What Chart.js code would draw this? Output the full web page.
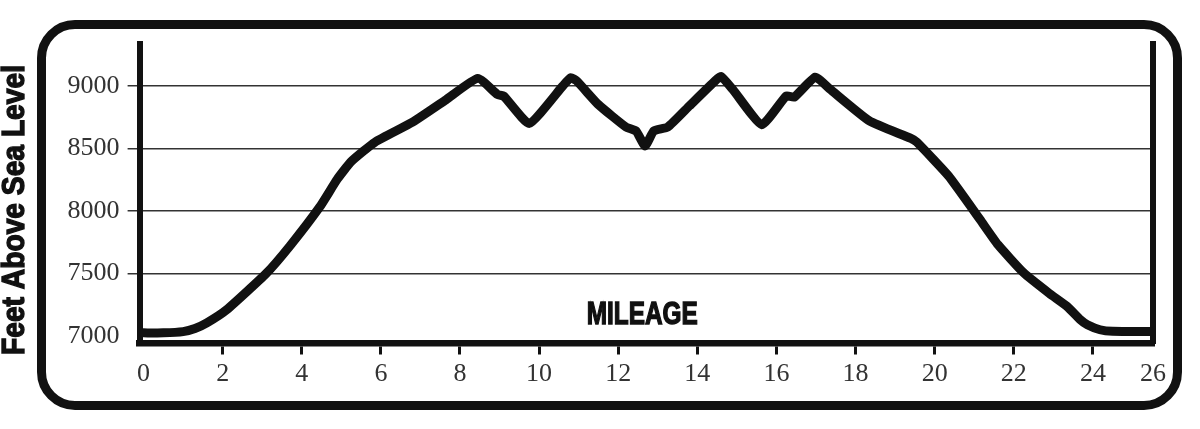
<!DOCTYPE html>
<html>
<head>
<meta charset="utf-8">
<script src="https://cdn.jsdelivr.net/npm/chart.js@4.4.0/dist/chart.umd.min.js"></script>
<style>
  html, body { margin:0; padding:0; background:#fff; }
  #wrap { position:relative; width:1200px; height:429px; }
  #frame {
    position:absolute; left:37px; top:20px; width:1145px; height:390px;
    box-sizing:border-box; border:9px solid #111; border-radius:38px;
    pointer-events:none;
  }
</style>
</head>
<body>
<div id="wrap">
  <canvas id="profil" width="1200" height="429"></canvas>
  <div id="frame"></div>
</div>
<script>
// Profil d'altitude : miles / pieds
const miles = [0, 0.5, 1.0, 1.3, 1.6, 2.1, 3.1, 3.7, 4.45, 4.9, 5.25, 5.85, 6.8, 7.65, 8.45,
  8.95, 9.1, 9.75, 10.6, 10.8, 10.95, 11.5, 12.2, 12.45, 12.68, 12.9, 13.25, 13.8, 14.45, 14.6,
  14.9, 15.63, 16.25, 16.45, 16.98, 17.35, 18.35, 19.4, 19.55, 20.35, 21.15, 21.6, 22.25, 22.9,
  23.35, 23.68, 23.86, 24.18, 24.5, 25.45];
const elevation = [7025, 7025, 7035, 7060, 7105, 7210, 7500, 7720, 8030, 8255, 8395, 8550, 8710, 8890, 9060,
  8930, 8920, 8700, 9000, 9065, 9040, 8850, 8670, 8640, 8520, 8640, 8670, 8840, 9040, 9075,
  8970, 8690, 8920, 8910, 9070, 8975, 8720, 8580, 8550, 8280, 7930, 7730, 7505, 7340,
  7236, 7131, 7090, 7050, 7037, 7035];

const yTicks = [7000, 7500, 8000, 8500, 9000];
const xTickLabels = ['0','2','4','6','8','10','12','14','16','18','20','22','24','26'];
const yTitle = 'Feet Above Sea Level';
const xTitle = 'MILEAGE';

// texte gras condensé, étiré pour tenir dans une largeur donnée
function texteCondense(ctx, txt, x, y, largeur, rot) {
  ctx.save();
  ctx.translate(x, y);
  if (rot) ctx.rotate(rot);
  ctx.font = 'bold 32px "Liberation Sans Narrow", "Liberation Sans", Arial, sans-serif';
  const w = ctx.measureText(txt).width;
  ctx.scale(largeur / w, 1);
  ctx.textAlign = 'center';
  ctx.textBaseline = 'middle';
  ctx.fillStyle = '#111';
  ctx.strokeStyle = '#111';
  ctx.lineWidth = 1.4;
  ctx.fillText(txt, 0, 0);
  ctx.strokeText(txt, 0, 0);
  ctx.restore();
}

const titres = {
  id: 'titres',
  afterDraw(chart) {
    const ctx = chart.ctx, a = chart.chartArea;
    texteCondense(ctx, xTitle, (a.left + a.right) / 2 - 4, a.bottom - 28, 111, 0);
    texteCondense(ctx, yTitle, 15, 210, 290, -Math.PI / 2);
  }
};

const fontTicks = { family: '"Liberation Serif", "DejaVu Serif", serif', size: 26, lineHeight: 1.2 };

new Chart(document.getElementById('profil'), {
  type: 'line',
  data: {
    datasets: [{
      data: miles.map((m, i) => ({ x: m, y: elevation[i] })),
      borderColor: '#111',
      borderWidth: 9,
      borderCapStyle: 'round',
      borderJoinStyle: 'round',
      pointRadius: 0,
      tension: 0.15,
      fill: false
    }]
  },
  options: {
    responsive: false,
    animation: false,
    layout: { padding: { top: 44, left: 0, right: 0, bottom: 0 } },
    plugins: { legend: { display: false }, tooltip: { enabled: false } },
    scales: {
      x: {
        type: 'linear', min: -0.1, max: 25.52,
        afterFit: s => { s.height = 85.5; },
        afterBuildTicks: s => {
          s.ticks = xTickLabels.map((l, i) => ({ value: i < xTickLabels.length - 1 ? +l : s.max }));
        },
        ticks: { callback: (v, i) => xTickLabels[i], color: '#333', font: fontTicks, padding: 4, maxRotation: 0 },
        grid: {
          drawOnChartArea: false, tickLength: 11, lineWidth: 3,
          color: c => (c.index === 0 || c.index === xTickLabels.length - 1) ? 'rgba(0,0,0,0)' : '#111'
        },
        border: { color: '#111', width: 6.5 }
      },
      y: {
        min: 6940, max: 9335,
        afterFit: s => { s.width = 139.6; },
        afterBuildTicks: s => { s.ticks = yTicks.map(v => ({ value: v })); },
        ticks: { color: '#333', font: fontTicks, padding: 8, callback: v => String(v) },
        grid: {
          tickLength: 12, lineWidth: 1.5,
          color: c => (c.tick && c.tick.value === 7000) ? 'rgba(0,0,0,0)' : '#333'
        },
        border: { color: '#111', width: 6 }
      },
      y2: {
        position: 'right', min: 6940, max: 9335,
        afterFit: s => { s.width = 1200 - 1153; },
        ticks: { display: false },
        grid: { drawOnChartArea: false, drawTicks: false, color: 'rgba(0,0,0,0)' },
        border: { color: '#111', width: 6 }
      }
    }
  },
  plugins: [titres]
});
</script>
</body>
</html>
